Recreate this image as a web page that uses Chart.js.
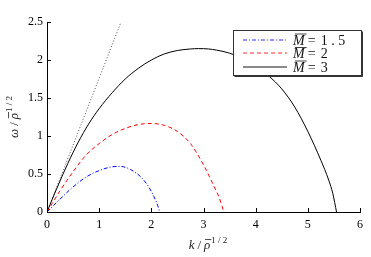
<!DOCTYPE html>
<html>
<head>
<meta charset="utf-8">
<script src="https://cdn.jsdelivr.net/npm/chart.js@4"></script>
<style>
  html, body { margin: 0; padding: 0; background: #fff; }
  #wrap { width: 371px; height: 257px; }
</style>
</head>
<body>
<div id="wrap"><canvas id="chart" width="371" height="257"></canvas></div>
<script>
'use strict';

// values: k / rho^(1/2) -> omega / rho^(1/2)
const mLabels = ['1 . 5', '2', '3'];

const kM15 = [0, 0.25, 0.5, 0.75, 1.0, 1.25, 1.4, 1.6, 1.8, 1.95, 2.05, 2.12, 2.16];
const wM15 = [0, 0.17, 0.33, 0.46, 0.545, 0.595, 0.60, 0.56, 0.46, 0.33, 0.20, 0.09, 0];

const kM2 = [0, 0.25, 0.5, 0.75, 1.0, 1.25, 1.5, 1.75, 2.0, 2.25, 2.5, 2.75, 3.0, 3.2, 3.3, 3.39];
const wM2 = [0, 0.28, 0.53, 0.75, 0.90, 1.02, 1.10, 1.15, 1.165, 1.14, 1.06, 0.90, 0.62, 0.34, 0.19, 0];

const kM3 = [0, 0.2, 0.4, 0.6, 0.8, 1.0, 1.25, 1.5, 1.75, 2.0, 2.25, 2.5, 2.75, 2.9, 3.1, 3.25, 3.5, 3.75, 4.0, 4.25, 4.5, 4.75, 5.0, 5.25, 5.4, 5.48, 5.55];
const wM3 = [0, 0.33, 0.64, 0.92, 1.16, 1.36, 1.57, 1.75, 1.89, 2.00, 2.08, 2.125, 2.145, 2.15, 2.145, 2.13, 2.09, 2.02, 1.92, 1.79, 1.62, 1.38, 1.06, 0.68, 0.42, 0.24, 0];

// long-wave asymptote (dotted)
const kLim = [0, 1.42];
const wLim = [0, 2.5];

const xTicks = [0, 1, 2, 3, 4, 5, 6];
const yTicks = [0, 0.5, 1, 1.5, 2, 2.5];

const lineColors = ['#0000ff', '#ff0000', '#000000'];
const legendColors = ['#2a2aff', '#ff2a2a', '#8a8a8a'];

const pts = (xs, ys) => xs.map((x, i) => ({ x, y: ys[i] }));

const SERIF = "'Liberation Serif', 'DejaVu Serif', serif";

// draw a run of text pieces centred on x, on one baseline
function drawPieces(ctx, pieces, cx, base) {
  let total = 0;
  pieces.forEach(p => { ctx.font = p.font; p.w = ctx.measureText(p.t).width; total += p.w + (p.gap || 0); });
  let x = cx - total / 2;
  pieces.forEach(p => {
    ctx.font = p.font;
    ctx.fillText(p.t, x, base - (p.up || 0));
    if (p.over) {
      ctx.beginPath();
      ctx.lineWidth = 0.8;
      ctx.moveTo(x + 1, base - p.over + 0.5);
      ctx.lineTo(x + p.w + 1, base - p.over + 0.5);
      ctx.stroke();
    }
    x += p.w + (p.gap || 0);
  });
}

function titlePieces(sym) {
  return [
    { t: sym, font: `italic 13px ${SERIF}`, gap: 3 },
    { t: '/', font: `13px ${SERIF}`, gap: 3 },
    { t: 'ρ', font: `italic 13px ${SERIF}`, over: 10, gap: 1 },
    { t: '1 / 2', font: `9px ${SERIF}`, up: 6 }
  ];
}

const decor = {
  id: 'decor',
  afterDatasetsDraw(chart) {
    const { ctx, chartArea: a, scales: { x, y } } = chart;
    ctx.save();
    ctx.strokeStyle = '#000';
    ctx.lineWidth = 1;
    ctx.setLineDash([]);
    // inward ticks
    ctx.beginPath();
    xTicks.forEach(v => {
      const px = Math.round(x.getPixelForValue(v)) + 0.5;
      ctx.moveTo(px, a.bottom); ctx.lineTo(px, a.bottom - 4);
    });
    yTicks.forEach(v => {
      const py = Math.round(y.getPixelForValue(v)) + 0.5;
      ctx.moveTo(a.left, py); ctx.lineTo(a.left + 4, py);
    });
    ctx.stroke();

    // legend box
    const bx = 233.5, by = 30.5, bw = 128, bh = 45;
    ctx.fillStyle = '#fff';
    ctx.fillRect(bx, by, bw, bh);
    ctx.strokeStyle = '#333';
    ctx.strokeRect(bx, by, bw, bh);
    ctx.beginPath();
    ctx.moveTo(bx + bw + 1, by + 1); ctx.lineTo(bx + bw + 1, by + bh + 1); ctx.lineTo(bx + 1, by + bh + 1);
    ctx.stroke();

    const rows = [39.5, 53, 66.5];
    chart.data.datasets.slice(0, 3).forEach((ds, i) => {
      const ry = rows[i];
      ctx.beginPath();
      ctx.strokeStyle = legendColors[i];
      ctx.lineWidth = i === 2 ? 2 : 1.2;
      ctx.setLineDash(ds.borderDash || []);
      ctx.moveTo(243, Math.round(ry)); ctx.lineTo(287, Math.round(ry));
      ctx.stroke();
      ctx.setLineDash([]);
      ctx.fillStyle = '#111';
      ctx.strokeStyle = '#111';
      ctx.textAlign = 'left';
      ctx.textBaseline = 'alphabetic';
      ctx.font = `italic 14px ${SERIF}`;
      const mw = ctx.measureText('M').width;
      ctx.fillText('M', 293, ry + 5);
      ctx.beginPath();
      ctx.lineWidth = 0.8;
      ctx.moveTo(295, ry - 5.5); ctx.lineTo(295 + mw, ry - 5.5);
      ctx.stroke();
      ctx.font = `14px ${SERIF}`;
      ctx.fillText('=', 293 + mw + 3, ry + 5);
      ctx.fillText(ds.label, 293 + mw + 16, ry + 5);
    });

    // axis titles
    ctx.fillStyle = '#222';
    ctx.strokeStyle = '#222';
    ctx.textAlign = 'left';
    ctx.textBaseline = 'alphabetic';
    drawPieces(ctx, titlePieces('k'), 208, 249);
    ctx.translate(18, 117);
    ctx.rotate(-Math.PI / 2);
    drawPieces(ctx, titlePieces('ω'), 0, 0);
    ctx.restore();
  }
};

const line = (label, xs, ys, color, dash) => ({
  label,
  data: pts(xs, ys),
  showLine: true,
  borderColor: color,
  borderWidth: 1,
  borderDash: dash,
  pointRadius: 0,
  fill: false,
  cubicInterpolationMode: 'monotone'
});

new Chart(document.getElementById('chart'), {
  type: 'scatter',
  data: {
    datasets: [
      line(mLabels[0], kM15, wM15, lineColors[0], [4, 2, 1, 2]),
      line(mLabels[1], kM2, wM2, lineColors[1], [4, 3]),
      line(mLabels[2], kM3, wM3, lineColors[2], []),
      line('', kLim, wLim, '#555555', [1, 2])
    ]
  },
  options: {
    responsive: false,
    animation: false,
    devicePixelRatio: 1,
    layout: { padding: { left: 0, top: 22, right: 11, bottom: 0 } },
    plugins: { legend: { display: false }, tooltip: { enabled: false } },
    scales: {
      x: {
        type: 'linear', min: 0, max: 6,
        afterFit: s => { s.height = 45; },
        afterBuildTicks: s => { s.ticks = xTicks.map(v => ({ value: v })); },
        grid: { display: false, drawTicks: false },
        border: { display: true, color: '#000', width: 1 },
        ticks: { color: '#000', padding: 6, autoSkip: false, maxRotation: 0, callback: v => String(v), font: { family: SERIF, size: 12 } }
      },
      y: {
        type: 'linear', min: 0, max: 2.5,
        afterFit: s => { s.width = 47; },
        afterBuildTicks: s => { s.ticks = yTicks.map(v => ({ value: v })); },
        grid: { display: false, drawTicks: false },
        border: { display: true, color: '#000', width: 1 },
        ticks: { color: '#000', padding: 4, autoSkip: false, callback: v => String(v), font: { family: SERIF, size: 12 } }
      }
    }
  },
  plugins: [decor]
});
</script>
</body>
</html>
